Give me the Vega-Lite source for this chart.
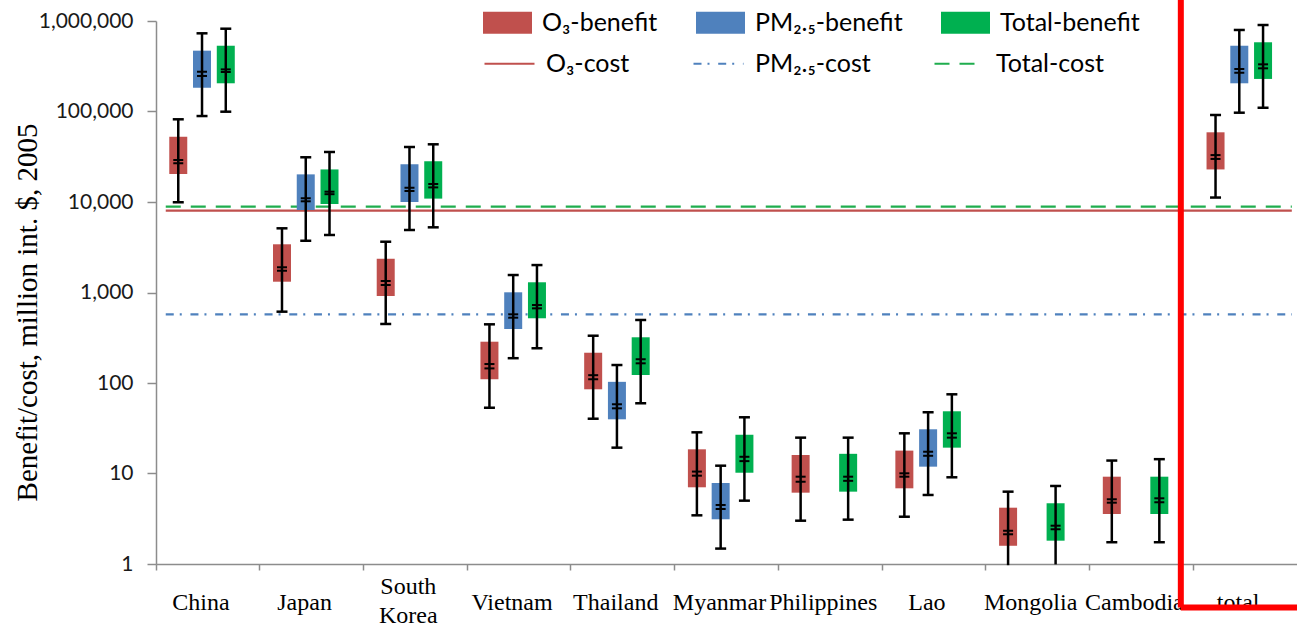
{
  "$schema": "https://vega.github.io/schema/vega-lite/v6.json",
  "width": 1141,
  "height": 543,
  "autosize": "none",
  "padding": {"left": 156, "top": 21, "right": 0, "bottom": 62},
  "background": "white",
  "config": {"view": {"stroke": null}},
  "resolve": {"axis": {"x": "independent"}},
  "datasets": {
    "box": [
      {"country": "China", "series": "O₃-benefit", "lo": 9930, "q1": 20400, "m1": 29100, "m2": 26800, "q3": 52600, "hi": 82000, "cap": 9930},
      {"country": "China", "series": "PM₂.₅-benefit", "lo": 89100, "q1": 183000, "m1": 275000, "m2": 247000, "q3": 470000, "hi": 731000, "cap": 89100},
      {"country": "China", "series": "Total-benefit", "lo": 99500, "q1": 205000, "m1": 292000, "m2": 273000, "q3": 533000, "hi": 822000, "cap": 99500},
      {"country": "Japan", "series": "O₃-benefit", "lo": 614, "q1": 1316, "m1": 1900, "m2": 1740, "q3": 3410, "hi": 5120, "cap": 614},
      {"country": "Japan", "series": "PM₂.₅-benefit", "lo": 3730, "q1": 8160, "m1": 11000, "m2": 10180, "q3": 20200, "hi": 31200, "cap": 3730},
      {"country": "Japan", "series": "Total-benefit", "lo": 4320, "q1": 9500, "m1": 13000, "m2": 12200, "q3": 22900, "hi": 35700, "cap": 4320},
      {"country": "South Korea", "series": "O₃-benefit", "lo": 449, "q1": 915, "m1": 1340, "m2": 1210, "q3": 2360, "hi": 3640, "cap": 449},
      {"country": "South Korea", "series": "PM₂.₅-benefit", "lo": 4910, "q1": 10000, "m1": 14400, "m2": 13200, "q3": 26100, "hi": 40500, "cap": 4910},
      {"country": "South Korea", "series": "Total-benefit", "lo": 5250, "q1": 10900, "m1": 15800, "m2": 14500, "q3": 28200, "hi": 43400, "cap": 5250},
      {"country": "Vietnam", "series": "O₃-benefit", "lo": 53.3, "q1": 110, "m1": 162, "m2": 145, "q3": 286, "hi": 445, "cap": 53.3},
      {"country": "Vietnam", "series": "PM₂.₅-benefit", "lo": 188, "q1": 395, "m1": 574, "m2": 527, "q3": 1005, "hi": 1560, "cap": 188},
      {"country": "Vietnam", "series": "Total-benefit", "lo": 242, "q1": 519, "m1": 727, "m2": 668, "q3": 1297, "hi": 2010, "cap": 242},
      {"country": "Thailand", "series": "O₃-benefit", "lo": 40.3, "q1": 85.2, "m1": 122, "m2": 110, "q3": 216, "hi": 333, "cap": 40.3},
      {"country": "Thailand", "series": "PM₂.₅-benefit", "lo": 19.3, "q1": 39.7, "m1": 58.2, "m2": 52.5, "q3": 103, "hi": 158, "cap": 19.3},
      {"country": "Thailand", "series": "Total-benefit", "lo": 59.7, "q1": 122.5, "m1": 183, "m2": 165, "q3": 320, "hi": 497, "cap": 59.7},
      {"country": "Myanmar", "series": "O₃-benefit", "lo": 3.45, "q1": 7.04, "m1": 10.5, "m2": 9.46, "q3": 18.5, "hi": 28.5, "cap": 3.45},
      {"country": "Myanmar", "series": "PM₂.₅-benefit", "lo": 1.48, "q1": 3.12, "m1": 4.49, "m2": 4.05, "q3": 7.85, "hi": 12.2, "cap": 1.48},
      {"country": "Myanmar", "series": "Total-benefit", "lo": 5.01, "q1": 10.2, "m1": 15.3, "m2": 13.7, "q3": 26.8, "hi": 41.8, "cap": 5.01},
      {"country": "Philippines", "series": "O₃-benefit", "lo": 3.01, "q1": 6.14, "m1": 9.22, "m2": 8.11, "q3": 16.0, "hi": 24.9, "cap": 3.01},
      {"country": "Philippines", "series": "Total-benefit", "lo": 3.09, "q1": 6.3, "m1": 9.22, "m2": 8.3, "q3": 16.5, "hi": 24.9, "cap": 3.09},
      {"country": "Lao", "series": "O₃-benefit", "lo": 3.33, "q1": 6.86, "m1": 10.05, "m2": 9.22, "q3": 17.9, "hi": 27.8, "cap": 3.33},
      {"country": "Lao", "series": "PM₂.₅-benefit", "lo": 5.79, "q1": 11.9, "m1": 17.4, "m2": 15.7, "q3": 30.8, "hi": 47.5, "cap": 5.79},
      {"country": "Lao", "series": "Total-benefit", "lo": 9.08, "q1": 19.3, "m1": 27.8, "m2": 24.9, "q3": 48.7, "hi": 75.0, "cap": 9.08},
      {"country": "Mongolia", "series": "O₃-benefit", "lo": 0.97, "q1": 1.59, "m1": 2.33, "m2": 2.13, "q3": 4.19, "hi": 6.3, "cap": null},
      {"country": "Mongolia", "series": "Total-benefit", "lo": 0.99, "q1": 1.81, "m1": 2.65, "m2": 2.42, "q3": 4.69, "hi": 7.28, "cap": null},
      {"country": "Cambodia", "series": "O₃-benefit", "lo": 1.74, "q1": 3.57, "m1": 5.19, "m2": 4.76, "q3": 9.22, "hi": 13.9, "cap": 1.74},
      {"country": "Cambodia", "series": "Total-benefit", "lo": 1.74, "q1": 3.57, "m1": 5.32, "m2": 4.81, "q3": 9.22, "hi": 14.4, "cap": 1.74},
      {"country": "total", "series": "O₃-benefit", "lo": 11200, "q1": 22900, "m1": 33000, "m2": 29900, "q3": 58900, "hi": 91500, "cap": 11200},
      {"country": "total", "series": "PM₂.₅-benefit", "lo": 97000, "q1": 205000, "m1": 295000, "m2": 268000, "q3": 533000, "hi": 796000, "cap": 97000},
      {"country": "total", "series": "Total-benefit", "lo": 110000, "q1": 229000, "m1": 332000, "m2": 300000, "q3": 582000, "hi": 903000, "cap": 110000}
    ],
    "cost": [
      {"cost": "O₃-cost", "v": 8020},
      {"cost": "PM₂.₅-cost", "v": 574},
      {"cost": "Total-cost", "v": 8870}
    ],
    "frame": [
      {"xa": "Cambodia", "xb": "total", "ylo": 0.331, "yhi": 10000000}
    ]
  },
  "layer": [
    {
      "data": {"name": "cost"},
      "mark": {"type": "rule", "strokeWidth": 2.2},
      "encoding": {
        "x": {"datum": "China", "bandPosition": 0.094, "type": "nominal", "axis": null},
        "x2": {"datum": "total", "bandPosition": 0.95},
        "y": {"field": "v", "type": "quantitative"},
        "stroke": {
          "field": "cost", "type": "nominal",
          "scale": {"domain": ["O₃-cost", "PM₂.₅-cost", "Total-cost"], "range": ["#C0504D", "#4F81BD", "#1FAD4E"]},
          "legend": {"orient": "none", "legendX": 327, "legendY": 16, "direction": "horizontal", "columns": 3, "columnPadding": 59, "title": null, "symbolType": "stroke", "symbolSize": 2500, "symbolStrokeWidth": 2.2, "labelFont": "Lato", "labelFontSize": 25, "labelColor": "#000000", "labelOffset": 10, "labelLimit": 400, "padding": 0, "offset": 0}
        },
        "strokeDash": {
          "field": "cost", "type": "nominal",
          "scale": {"domain": ["O₃-cost", "PM₂.₅-cost", "Total-cost"], "range": [[1, 0], [8, 6, 2, 8.7], [15, 10]]},
          "legend": {"orient": "none", "legendX": 327, "legendY": 16, "direction": "horizontal", "columns": 3, "columnPadding": 59, "title": null, "symbolType": "stroke", "symbolSize": 2500, "symbolStrokeWidth": 2.2, "labelFont": "Lato", "labelFontSize": 25, "labelColor": "#000000", "labelOffset": 10, "labelLimit": 400, "padding": 0, "offset": 0}
        }
      }
    },
    {
      "data": {"name": "box"},
      "mark": {"type": "bar", "width": 18},
      "encoding": {
        "x": {
          "field": "country", "type": "nominal", "sort": null,
          "scale": {"domain": ["China", "Japan", "South Korea", "Vietnam", "Thailand", "Myanmar", "Philippines", "Lao", "Mongolia", "Cambodia", "total"], "paddingInner": 0, "paddingOuter": 0},
          "axis": {
            "orient": "bottom", "title": null, "bandPosition": 0, "labels": false, "ticks": true, "domain": true,
            "domainColor": "#8C8C8C", "domainWidth": 1.5, "tickColor": "#8C8C8C", "tickWidth": 1.5, "tickSize": 6
          }
        },
        "xOffset": {
          "field": "series", "type": "nominal",
          "scale": {"domain": ["O₃-benefit", "PM₂.₅-benefit", "Total-benefit"], "paddingInner": 0, "paddingOuter": 0.683, "align": 0.32}
        },
        "y": {
          "field": "q1", "type": "quantitative",
          "scale": {"type": "log", "domain": [1, 1000000], "nice": false},
          "axis": {
            "title": "Benefit/cost, million int. $, 2005", "titleFont": "Liberation Serif", "titleFontSize": 29, "titleFontWeight": "normal", "titleColor": "#000000",
            "titleX": -120, "titleY": 291, "titleBaseline": "alphabetic",
            "values": [1, 10, 100, 1000, 10000, 100000, 1000000], "format": ",", "grid": false,
            "domainColor": "#8C8C8C", "domainWidth": 1.5, "tickColor": "#8C8C8C", "tickWidth": 1.5, "tickSize": 9,
            "labelFont": "Lato", "labelFontSize": 21, "labelColor": "#1a1a1a", "labelPadding": 14
          }
        },
        "y2": {"field": "q3"},
        "fill": {
          "field": "series", "type": "nominal",
          "scale": {"domain": ["O₃-benefit", "PM₂.₅-benefit", "Total-benefit"], "range": ["#C0504D", "#4F81BD", "#00B050"]},
          "legend": {"orient": "none", "legendX": 327, "legendY": -23, "direction": "horizontal", "columns": 3, "columnPadding": 38, "title": null, "symbolType": "M-1,-0.45H1V0.45H-1Z", "symbolSize": 2401, "symbolStrokeWidth": 0, "symbolOpacity": 1, "labelFont": "Lato", "labelFontSize": 25, "labelColor": "#000000", "labelOffset": 10, "labelLimit": 400, "padding": 0, "offset": 0}
        }
      }
    },
    {
      "data": {"name": "box"},
      "mark": {"type": "rule", "color": "#000000", "strokeWidth": 2.5},
      "encoding": {
        "x": {
          "field": "country", "type": "nominal",
          "axis": {
            "orient": "bottom", "title": null, "ticks": false, "tickSize": 0, "domain": false,
            "labelAngle": 0, "labelFont": "Liberation Serif", "labelFontSize": 24, "labelColor": "#000000",
            "labelBaseline": "alphabetic", "labelOffset": -7, "labelLineHeight": 29,
            "labelPadding": {"condition": {"test": "datum.value == 'South Korea'", "value": 29}, "value": 45},
            "labelExpr": "datum.value == 'South Korea' ? ['South', 'Korea'] : datum.value"
          }
        },
        "xOffset": {"field": "series", "type": "nominal"},
        "y": {"field": "lo", "type": "quantitative"},
        "y2": {"field": "hi"}
      }
    },
    {
      "data": {"name": "box"},
      "mark": {"type": "tick", "color": "#000000", "thickness": 2.5, "size": 11, "opacity": 1},
      "encoding": {
        "x": {"field": "country", "type": "nominal", "axis": null},
        "xOffset": {"field": "series", "type": "nominal"},
        "y": {"field": "hi", "type": "quantitative"}
      }
    },
    {
      "data": {"name": "box"},
      "transform": [{"filter": "datum.cap != null"}],
      "mark": {"type": "tick", "color": "#000000", "thickness": 2.5, "size": 11, "opacity": 1},
      "encoding": {
        "x": {"field": "country", "type": "nominal", "axis": null},
        "xOffset": {"field": "series", "type": "nominal"},
        "y": {"field": "cap", "type": "quantitative"}
      }
    },
    {
      "data": {"name": "box"},
      "mark": {"type": "tick", "color": "#000000", "thickness": 2, "size": 10, "opacity": 1},
      "encoding": {
        "x": {"field": "country", "type": "nominal", "axis": null},
        "xOffset": {"field": "series", "type": "nominal"},
        "y": {"field": "m1", "type": "quantitative"}
      }
    },
    {
      "data": {"name": "box"},
      "mark": {"type": "tick", "color": "#000000", "thickness": 2, "size": 10, "opacity": 1},
      "encoding": {
        "x": {"field": "country", "type": "nominal", "axis": null},
        "xOffset": {"field": "series", "type": "nominal"},
        "y": {"field": "m2", "type": "quantitative"}
      }
    },
    {
      "data": {"name": "frame"},
      "mark": {"type": "rule", "color": "#FF0000", "strokeWidth": 6, "clip": false},
      "encoding": {
        "x": {"field": "xa", "type": "nominal", "bandPosition": 0.88, "axis": null},
        "y": {"field": "ylo", "type": "quantitative"},
        "y2": {"field": "yhi"}
      }
    },
    {
      "data": {"name": "frame"},
      "mark": {"type": "rule", "color": "#FF0000", "strokeWidth": 6, "clip": false},
      "encoding": {
        "x": {"field": "xa", "type": "nominal", "bandPosition": 0.88, "axis": null},
        "x2": {"field": "xb", "bandPosition": 1},
        "y": {"field": "ylo", "type": "quantitative"}
      }
    }
  ]
}
